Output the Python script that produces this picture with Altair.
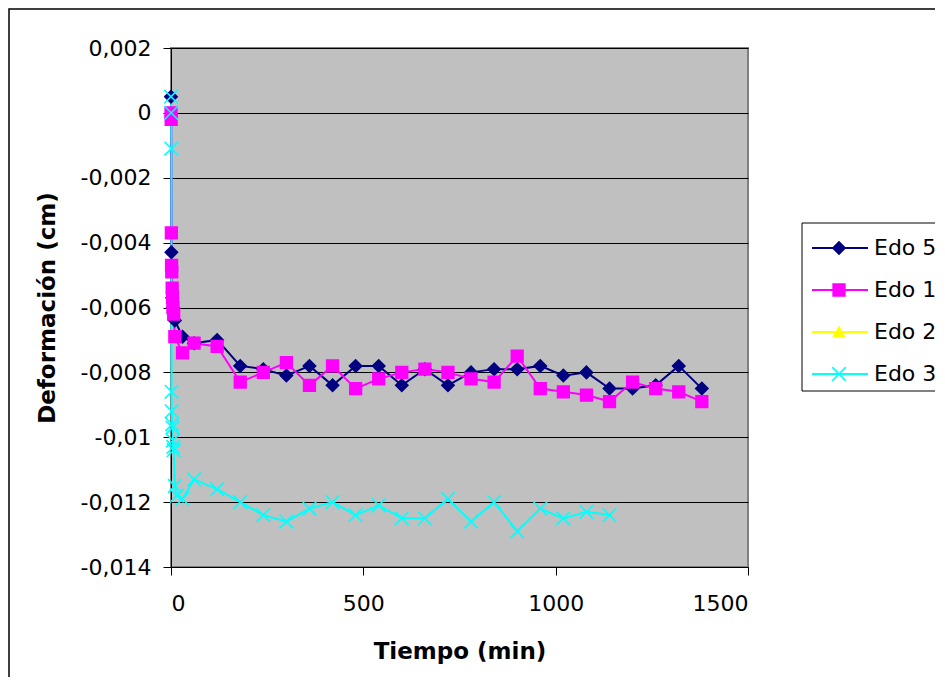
import altair as alt
import pandas as pd

series_names = ["Edo 5", "Edo 1", "Edo 2", "Edo 3"]
series_colors = ["#000080", "#FF00FF", "#FFFF00", "#00FFFF"]
series_shapes = ["diamond", "square", "triangle-up", "M-1.3,-1.3L1.3,1.3M-1.3,1.3L1.3,-1.3"]
series_sizes = [150, 110, 120, 200]

late_t = [120, 180, 240, 300, 360, 420, 480, 540, 600, 660, 720, 780, 840,
          900, 960, 1020, 1080, 1140, 1200, 1260, 1320, 1380]

edo5_t = [0, 1, 3, 5, 10, 30, 60] + late_t
edo5_y = [0.0005, -0.0043, -0.0057, -0.0060, -0.0064, -0.0069, -0.0071,
          -0.0070, -0.0078, -0.0079, -0.0081, -0.0078, -0.0084, -0.0078,
          -0.0078, -0.0084, -0.0079, -0.0084, -0.0080, -0.0079, -0.0079,
          -0.0078, -0.0081, -0.0080, -0.0085, -0.0085, -0.0084, -0.0078,
          -0.0085]

edo1_t = [0, 0.5, 1, 1.5, 2, 3, 4, 5, 7, 10, 30, 60] + late_t
edo1_y = [0.0, -0.0002, -0.0037, -0.0047, -0.0049, -0.0054, -0.0057,
          -0.0060, -0.0062, -0.0069, -0.0074, -0.0071,
          -0.0072, -0.0083, -0.0080, -0.0077, -0.0084, -0.0078, -0.0085,
          -0.0082, -0.0080, -0.0079, -0.0080, -0.0082, -0.0083, -0.0075,
          -0.0085, -0.0086, -0.0087, -0.0089, -0.0083, -0.0085, -0.0086,
          -0.0089]

edo2_t = []
edo2_y = []

edo3_t = [0, 0.5, 1, 1.5, 2, 3, 4, 5, 6, 7, 10, 15, 30, 60,
          120, 180, 240, 300, 360, 420, 480, 540, 600, 660, 720, 780, 840,
          900, 960, 1020, 1080, 1140]
edo3_y = [0.0005, 0.0, -0.0011, -0.0086, -0.0092, -0.0096, -0.0097,
          -0.0101, -0.0103, -0.0104, -0.0115, -0.0118, -0.0119, -0.0113,
          -0.0116, -0.0120, -0.0124, -0.0126, -0.0122, -0.0120, -0.0124,
          -0.0121, -0.0125, -0.0125, -0.0119, -0.0126, -0.0120, -0.0129,
          -0.0122, -0.0125, -0.0123, -0.0124]

y_ticks = [0.002, 0, -0.002, -0.004, -0.006, -0.008, -0.01, -0.012, -0.014]
x_ticks = [0, 500, 1000, 1500]

rows = []
for name, ts, ys in [("Edo 5", edo5_t, edo5_y), ("Edo 1", edo1_t, edo1_y),
                     ("Edo 2", edo2_t, edo2_y), ("Edo 3", edo3_t, edo3_y)]:
    for i, (t, v) in enumerate(zip(ts, ys)):
        rows.append({"Serie": name, "t": t, "y": v, "idx": i})
df = pd.DataFrame(rows)

FONT = "DejaVu Sans"
W, H = 577, 519

color_scale = alt.Scale(domain=series_names, range=series_colors)
shape_scale = alt.Scale(domain=series_names, range=series_shapes)
size_scale = alt.Scale(domain=series_names, range=series_sizes)

x_enc = alt.X("t:Q", title="Tiempo (min)",
              scale=alt.Scale(domain=[0, 1500], nice=False, zero=False),
              axis=alt.Axis(values=x_ticks, format="d", grid=False, tickSize=8,
                            labelPadding=18, labelFontSize=22, labelFont=FONT,
                            titleFont=FONT, titleFontSize=23, titleFontWeight="bold",
                            titleBaseline="alphabetic", titleY=91, titleX=W / 2,
                            domainColor="black", tickColor="black"))
y_enc = alt.Y("y:Q", title="Deformación (cm)",
              scale=alt.Scale(domain=[-0.014, 0.002], nice=False, zero=False),
              axis=alt.Axis(values=y_ticks, grid=True, gridColor="black", gridWidth=1,
                            tickSize=8, labelPadding=12, labelFontSize=22, labelFont=FONT,
                            labelExpr="replace(replace(format(datum.value, '.3~f'), '.', ','), '\u2212', '-')",
                            titleFont=FONT, titleFontSize=23, titleFontWeight="bold",
                            titleBaseline="alphabetic", titleX=-117, titleY=H / 2,
                            domainColor="black", tickColor="black"))

one = pd.DataFrame({"a": [0]})

border = alt.Chart(one).mark_rect(fillOpacity=0, stroke="black", strokeWidth=1.5).encode(
    x=alt.value(-162), x2=alt.value(800), y=alt.value(-39), y2=alt.value(660))

lines = alt.Chart(df).mark_line(strokeWidth=2).encode(
    x=x_enc, y=y_enc,
    color=alt.Color("Serie:N", scale=color_scale, legend=None),
    order=alt.Order("idx:Q"))

points = alt.Chart(df).mark_point(filled=True, opacity=1, strokeWidth=1.6).encode(
    x=alt.X("t:Q"), y=alt.Y("y:Q"),
    fill=alt.Fill("Serie:N", scale=color_scale, legend=None),
    stroke=alt.Stroke("Serie:N", scale=color_scale, legend=None),
    shape=alt.Shape("Serie:N", scale=shape_scale, legend=None),
    size=alt.Size("Serie:N", scale=size_scale, legend=None))

leg_df = pd.DataFrame({"Serie": series_names})
leg_df["ly"] = [200 + 42 * i for i in range(len(series_names))]

leg_box = alt.Chart(one).mark_rect(fill="white", stroke="black", strokeWidth=1).encode(
    x=alt.value(631), x2=alt.value(810), y=alt.value(175), y2=alt.value(343))

leg_y = alt.Y("ly:Q", scale=None, axis=None)
leg_rule = alt.Chart(leg_df).mark_rule(strokeWidth=2).encode(
    x=alt.value(641), x2=alt.value(697), y=leg_y,
    color=alt.Color("Serie:N", scale=color_scale, legend=None))
leg_pts = alt.Chart(leg_df).mark_point(filled=True, opacity=1, strokeWidth=1.6).encode(
    x=alt.value(668), y=leg_y,
    fill=alt.Fill("Serie:N", scale=color_scale, legend=None),
    stroke=alt.Stroke("Serie:N", scale=color_scale, legend=None),
    shape=alt.Shape("Serie:N", scale=shape_scale, legend=None),
    size=alt.Size("Serie:N", scale=size_scale, legend=None))
leg_txt = alt.Chart(leg_df).mark_text(align="left", baseline="middle", font=FONT,
                                      fontSize=22, color="black").encode(
    x=alt.value(703), y=leg_y, text="Serie:N")

chart = alt.layer(border, lines, points, leg_box, leg_rule, leg_pts, leg_txt).properties(
    width=W, height=H,
    autosize=alt.AutoSizeParams(type="none"),
    padding={"left": 163, "top": 40, "right": 187, "bottom": 110},
    background="white",
).configure_view(fill="#C0C0C0", stroke="#808080", strokeWidth=2)

chart.save("out.html", embed_options={"renderer": "svg", "actions": False})
